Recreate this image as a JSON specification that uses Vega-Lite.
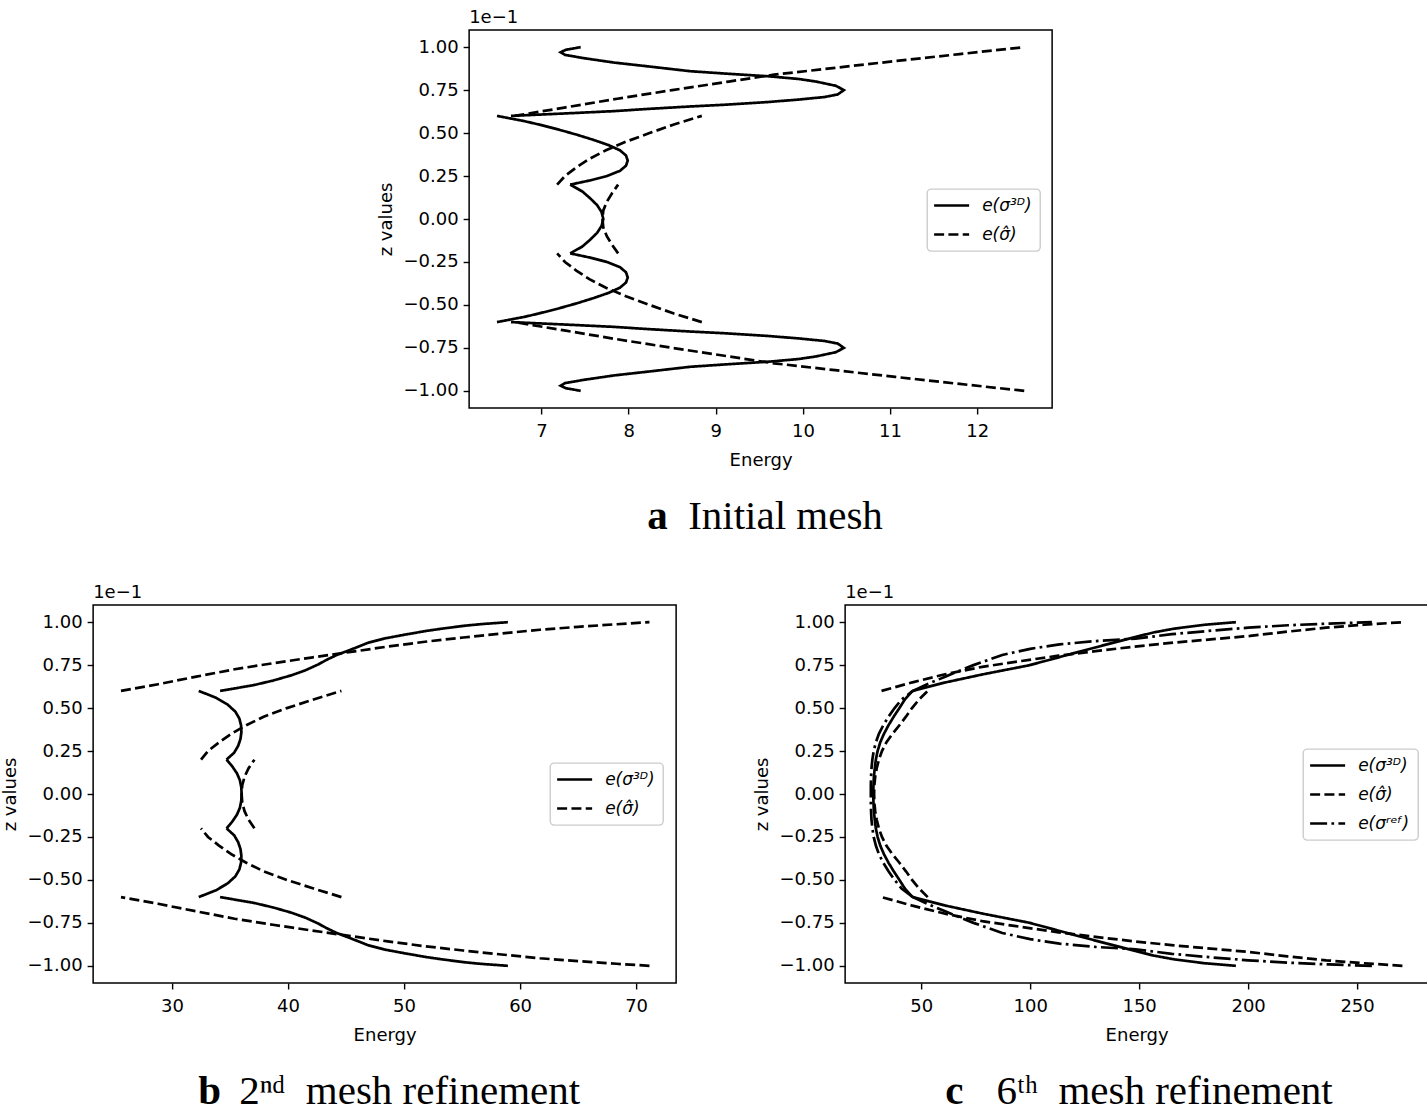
{
"$schema": "https://vega.github.io/schema/vega-lite/v6.json",
"background": "white",
"padding": {"left": 1, "top": 8, "right": 0, "bottom": 0},
"autosize": {"type": "pad"},
"spacing": 46,
"center": true,
"resolve": {"scale": {"strokeDash": "independent"}, "legend": {"strokeDash": "independent"}},
"config": {
  "view": {"stroke": "black", "strokeWidth": 1.5},
  "axis": {"grid": false, "domain": false, "tickColor": "black", "tickSize": 6, "tickWidth": 1.4, "labelFont": "DejaVu Sans", "labelFontSize": 18, "labelColor": "black", "labelPadding": 8, "titleFont": "DejaVu Sans", "titleFontSize": 18, "titleFontWeight": "normal", "titleColor": "black", "titlePadding": 11},
  "axisY": {"labelPadding": 5, "titlePadding": 7},
  "legend": {"orient": "none", "symbolType": "M-2.5,0H2.5", "symbolSize": 196, "symbolOffset": 8, "symbolStrokeWidth": 2.7, "symbolStrokeColor": "black", "labelFont": "DejaVu Sans", "labelFontStyle": "italic", "labelFontSize": 17, "labelColor": "black", "labelOffset": 22, "rowPadding": 11, "padding": 8, "fillColor": "rgba(255,255,255,0.8)", "strokeColor": "#cccccc", "cornerRadius": 4, "strokeWidth": 1.4}
},
"vconcat": [
{
  "title": {"text": "a", "subtitle": "\u200b\u00a0\u00a0\u00a0\u00a0Initial mesh", "orient": "bottom", "anchor": "start", "frame": "group", "dx": 178, "offset": 27, "font": "Liberation Serif", "fontSize": 41, "fontWeight": "bold", "color": "black", "subtitleFont": "Liberation Serif", "subtitleFontSize": 41, "subtitleFontWeight": "normal", "subtitleColor": "black", "subtitlePadding": -41},
  "vconcat": [{
    "width": 583, "height": 378,
    "title": {"text": "1e\u22121", "anchor": "start", "frame": "group", "orient": "top", "font": "DejaVu Sans", "fontSize": 18, "fontWeight": "normal", "color": "black", "offset": 3},
    "data": {"values": [
      {"s":"S","g":"a5","z":1.0,"E":7.45},{"s":"S","g":"a5","z":0.985,"E":7.28},{"s":"S","g":"a5","z":0.97,"E":7.22},{"s":"S","g":"a5","z":0.955,"E":7.27},{"s":"S","g":"a5","z":0.935,"E":7.5},{"s":"S","g":"a5","z":0.91,"E":7.84},{"s":"S","g":"a5","z":0.885,"E":8.28},{"s":"S","g":"a5","z":0.86,"E":8.71},{"s":"S","g":"a5","z":0.845,"E":9.15},{"s":"S","g":"a5","z":0.83,"E":9.62},{"s":"S","g":"a5","z":0.815,"E":9.95},{"s":"S","g":"a5","z":0.8,"E":10.15},{"s":"S","g":"a5","z":0.775,"E":10.38},{"s":"S","g":"a5","z":0.75,"E":10.47},{"s":"S","g":"a5","z":0.725,"E":10.4},{"s":"S","g":"a5","z":0.71,"E":10.25},{"s":"S","g":"a5","z":0.695,"E":9.95},{"s":"S","g":"a5","z":0.68,"E":9.58},{"s":"S","g":"a5","z":0.665,"E":9.1},{"s":"S","g":"a5","z":0.655,"E":8.71},{"s":"S","g":"a5","z":0.64,"E":8.2},{"s":"S","g":"a5","z":0.628,"E":7.84},{"s":"S","g":"a5","z":0.615,"E":7.3},{"s":"S","g":"a5","z":0.6,"E":6.65},
      {"s":"S","g":"a4","z":0.6,"E":6.49},{"s":"S","g":"a4","z":0.57,"E":6.8},{"s":"S","g":"a4","z":0.55,"E":6.97},{"s":"S","g":"a4","z":0.52,"E":7.2},{"s":"S","g":"a4","z":0.49,"E":7.41},{"s":"S","g":"a4","z":0.46,"E":7.6},{"s":"S","g":"a4","z":0.43,"E":7.77},{"s":"S","g":"a4","z":0.4,"E":7.9},{"s":"S","g":"a4","z":0.37,"E":7.97},{"s":"S","g":"a4","z":0.34,"E":7.99},{"s":"S","g":"a4","z":0.31,"E":7.97},{"s":"S","g":"a4","z":0.28,"E":7.9},{"s":"S","g":"a4","z":0.25,"E":7.75},{"s":"S","g":"a4","z":0.225,"E":7.56},{"s":"S","g":"a4","z":0.2,"E":7.33},
      {"s":"S","g":"a3","z":0.2,"E":7.33},{"s":"S","g":"a3","z":0.16,"E":7.47},{"s":"S","g":"a3","z":0.12,"E":7.56},{"s":"S","g":"a3","z":0.08,"E":7.64},{"s":"S","g":"a3","z":0.04,"E":7.69},{"s":"S","g":"a3","z":0,"E":7.71},{"s":"S","g":"a3","z":-0.04,"E":7.69},{"s":"S","g":"a3","z":-0.08,"E":7.64},{"s":"S","g":"a3","z":-0.12,"E":7.56},{"s":"S","g":"a3","z":-0.16,"E":7.47},{"s":"S","g":"a3","z":-0.2,"E":7.33},
      {"s":"S","g":"a2","z":-0.6,"E":6.49},{"s":"S","g":"a2","z":-0.57,"E":6.8},{"s":"S","g":"a2","z":-0.55,"E":6.97},{"s":"S","g":"a2","z":-0.52,"E":7.2},{"s":"S","g":"a2","z":-0.49,"E":7.41},{"s":"S","g":"a2","z":-0.46,"E":7.6},{"s":"S","g":"a2","z":-0.43,"E":7.77},{"s":"S","g":"a2","z":-0.4,"E":7.9},{"s":"S","g":"a2","z":-0.37,"E":7.97},{"s":"S","g":"a2","z":-0.34,"E":7.99},{"s":"S","g":"a2","z":-0.31,"E":7.97},{"s":"S","g":"a2","z":-0.28,"E":7.9},{"s":"S","g":"a2","z":-0.25,"E":7.75},{"s":"S","g":"a2","z":-0.225,"E":7.56},{"s":"S","g":"a2","z":-0.2,"E":7.33},
      {"s":"S","g":"a1","z":-1.0,"E":7.45},{"s":"S","g":"a1","z":-0.985,"E":7.28},{"s":"S","g":"a1","z":-0.97,"E":7.22},{"s":"S","g":"a1","z":-0.955,"E":7.27},{"s":"S","g":"a1","z":-0.935,"E":7.5},{"s":"S","g":"a1","z":-0.91,"E":7.84},{"s":"S","g":"a1","z":-0.885,"E":8.28},{"s":"S","g":"a1","z":-0.86,"E":8.71},{"s":"S","g":"a1","z":-0.845,"E":9.15},{"s":"S","g":"a1","z":-0.83,"E":9.62},{"s":"S","g":"a1","z":-0.815,"E":9.95},{"s":"S","g":"a1","z":-0.8,"E":10.15},{"s":"S","g":"a1","z":-0.775,"E":10.38},{"s":"S","g":"a1","z":-0.75,"E":10.47},{"s":"S","g":"a1","z":-0.725,"E":10.4},{"s":"S","g":"a1","z":-0.71,"E":10.25},{"s":"S","g":"a1","z":-0.695,"E":9.95},{"s":"S","g":"a1","z":-0.68,"E":9.58},{"s":"S","g":"a1","z":-0.665,"E":9.1},{"s":"S","g":"a1","z":-0.655,"E":8.71},{"s":"S","g":"a1","z":-0.64,"E":8.2},{"s":"S","g":"a1","z":-0.628,"E":7.84},{"s":"S","g":"a1","z":-0.615,"E":7.3},{"s":"S","g":"a1","z":-0.6,"E":6.65},
      {"s":"D","g":"b5","z":0.6,"E":6.69},{"s":"D","g":"b5","z":0.65,"E":7.28},{"s":"D","g":"b5","z":0.7,"E":7.87},{"s":"D","g":"b5","z":0.75,"E":8.5},{"s":"D","g":"b5","z":0.8,"E":9.15},{"s":"D","g":"b5","z":0.84,"E":9.67},{"s":"D","g":"b5","z":0.88,"E":10.37},{"s":"D","g":"b5","z":0.919,"E":11.06},{"s":"D","g":"b5","z":0.96,"E":11.8},{"s":"D","g":"b5","z":1.0,"E":12.54},
      {"s":"D","g":"b4","z":0.6,"E":8.84},{"s":"D","g":"b4","z":0.55,"E":8.52},{"s":"D","g":"b4","z":0.5,"E":8.24},{"s":"D","g":"b4","z":0.45,"E":7.97},{"s":"D","g":"b4","z":0.4,"E":7.74},{"s":"D","g":"b4","z":0.35,"E":7.55},{"s":"D","g":"b4","z":0.3,"E":7.4},{"s":"D","g":"b4","z":0.25,"E":7.27},{"s":"D","g":"b4","z":0.2,"E":7.18},
      {"s":"D","g":"b3","z":0.2,"E":7.88},{"s":"D","g":"b3","z":0.15,"E":7.81},{"s":"D","g":"b3","z":0.1,"E":7.75},{"s":"D","g":"b3","z":0.05,"E":7.71},{"s":"D","g":"b3","z":0,"E":7.7},{"s":"D","g":"b3","z":-0.05,"E":7.71},{"s":"D","g":"b3","z":-0.1,"E":7.75},{"s":"D","g":"b3","z":-0.15,"E":7.81},{"s":"D","g":"b3","z":-0.2,"E":7.88},
      {"s":"D","g":"b2","z":-0.6,"E":8.84},{"s":"D","g":"b2","z":-0.55,"E":8.52},{"s":"D","g":"b2","z":-0.5,"E":8.24},{"s":"D","g":"b2","z":-0.45,"E":7.97},{"s":"D","g":"b2","z":-0.4,"E":7.74},{"s":"D","g":"b2","z":-0.35,"E":7.55},{"s":"D","g":"b2","z":-0.3,"E":7.4},{"s":"D","g":"b2","z":-0.25,"E":7.27},{"s":"D","g":"b2","z":-0.2,"E":7.18},
      {"s":"D","g":"b1","z":-0.6,"E":6.69},{"s":"D","g":"b1","z":-0.65,"E":7.28},{"s":"D","g":"b1","z":-0.7,"E":7.87},{"s":"D","g":"b1","z":-0.75,"E":8.5},{"s":"D","g":"b1","z":-0.8,"E":9.15},{"s":"D","g":"b1","z":-0.84,"E":9.67},{"s":"D","g":"b1","z":-0.88,"E":10.37},{"s":"D","g":"b1","z":-0.919,"E":11.06},{"s":"D","g":"b1","z":-0.96,"E":11.8},{"s":"D","g":"b1","z":-1.0,"E":12.54}
    ]},
    "mark": {"type": "line", "color": "black", "strokeWidth": 2.7},
    "encoding": {
      "x": {"field": "E", "type": "quantitative", "scale": {"domain": [6.17, 12.86], "nice": false, "zero": false}, "axis": {"values": [7, 8, 9, 10, 11, 12], "title": "Energy"}},
      "y": {"field": "z", "type": "quantitative", "scale": {"domain": [-1.1, 1.1], "nice": false, "zero": false}, "axis": {"values": [-1, -0.75, -0.5, -0.25, 0, 0.25, 0.5, 0.75, 1], "format": ".2f", "title": "z values"}},
      "strokeDash": {"field": "s", "type": "nominal", "scale": {"domain": ["S", "D"], "range": [[1, 0], [10, 4.3]]}, "legend": {"title": null, "legendX": 458, "legendY": 159, "labelExpr": "datum.label === 'S' ? 'e(\u03c3\u00b3\u1d30)' : 'e(\u03c3\u0302)'"}},
      "detail": {"field": "g", "type": "nominal"},
      "order": {"field": "z", "type": "quantitative"}
    }
  }]
},
{
  "spacing": 76,
  "resolve": {"scale": {"strokeDash": "independent"}, "legend": {"strokeDash": "independent"}},
  "hconcat": [
  {
    "title": {"text": "b", "subtitle": "\u200b\u00a0\u00a0\u00a0\u00a02\u207f\u1d48\u00a0 mesh refinement", "orient": "bottom", "anchor": "start", "frame": "group", "dx": 105, "offset": 27, "font": "Liberation Serif", "fontSize": 41, "fontWeight": "bold", "color": "black", "subtitleFont": "Liberation Serif", "subtitleFontSize": 41, "subtitleFontWeight": "normal", "subtitleColor": "black", "subtitlePadding": -41},
    "vconcat": [{
      "width": 583, "height": 378,
      "title": {"text": "1e\u22121", "anchor": "start", "frame": "group", "orient": "top", "font": "DejaVu Sans", "fontSize": 18, "fontWeight": "normal", "color": "black", "offset": 3},
      "data": {"values": [
        {"s":"S","g":"c5","z":0.6,"E":34.14},{"s":"S","g":"c5","z":0.633,"E":37.0},{"s":"S","g":"c5","z":0.66,"E":38.7},{"s":"S","g":"c5","z":0.691,"E":40.3},{"s":"S","g":"c5","z":0.72,"E":41.5},{"s":"S","g":"c5","z":0.754,"E":42.6},{"s":"S","g":"c5","z":0.78,"E":43.3},{"s":"S","g":"c5","z":0.809,"E":44.2},{"s":"S","g":"c5","z":0.84,"E":45.4},{"s":"S","g":"c5","z":0.88,"E":46.9},{"s":"S","g":"c5","z":0.905,"E":48.3},{"s":"S","g":"c5","z":0.929,"E":50.2},{"s":"S","g":"c5","z":0.95,"E":52.0},{"s":"S","g":"c5","z":0.964,"E":53.45},{"s":"S","g":"c5","z":0.98,"E":55.3},{"s":"S","g":"c5","z":0.989,"E":56.7},{"s":"S","g":"c5","z":1.0,"E":58.95},
        {"s":"S","g":"c4","z":0.6,"E":32.3},{"s":"S","g":"c4","z":0.56,"E":33.8},{"s":"S","g":"c4","z":0.52,"E":34.8},{"s":"S","g":"c4","z":0.48,"E":35.45},{"s":"S","g":"c4","z":0.44,"E":35.8},{"s":"S","g":"c4","z":0.4,"E":35.95},{"s":"S","g":"c4","z":0.36,"E":35.98},{"s":"S","g":"c4","z":0.32,"E":35.9},{"s":"S","g":"c4","z":0.28,"E":35.7},{"s":"S","g":"c4","z":0.24,"E":35.35},{"s":"S","g":"c4","z":0.2,"E":34.7},
        {"s":"S","g":"c3","z":0.2,"E":34.7},{"s":"S","g":"c3","z":0.16,"E":35.2},{"s":"S","g":"c3","z":0.12,"E":35.6},{"s":"S","g":"c3","z":0.08,"E":35.85},{"s":"S","g":"c3","z":0.04,"E":35.97},{"s":"S","g":"c3","z":0,"E":36.0},{"s":"S","g":"c3","z":-0.04,"E":35.97},{"s":"S","g":"c3","z":-0.08,"E":35.85},{"s":"S","g":"c3","z":-0.12,"E":35.6},{"s":"S","g":"c3","z":-0.16,"E":35.2},{"s":"S","g":"c3","z":-0.2,"E":34.7},
        {"s":"S","g":"c2","z":-0.6,"E":32.3},{"s":"S","g":"c2","z":-0.56,"E":33.8},{"s":"S","g":"c2","z":-0.52,"E":34.8},{"s":"S","g":"c2","z":-0.48,"E":35.45},{"s":"S","g":"c2","z":-0.44,"E":35.8},{"s":"S","g":"c2","z":-0.4,"E":35.95},{"s":"S","g":"c2","z":-0.36,"E":35.98},{"s":"S","g":"c2","z":-0.32,"E":35.9},{"s":"S","g":"c2","z":-0.28,"E":35.7},{"s":"S","g":"c2","z":-0.24,"E":35.35},{"s":"S","g":"c2","z":-0.2,"E":34.7},
        {"s":"S","g":"c1","z":-0.6,"E":34.14},{"s":"S","g":"c1","z":-0.633,"E":37.0},{"s":"S","g":"c1","z":-0.66,"E":38.7},{"s":"S","g":"c1","z":-0.691,"E":40.3},{"s":"S","g":"c1","z":-0.72,"E":41.5},{"s":"S","g":"c1","z":-0.754,"E":42.6},{"s":"S","g":"c1","z":-0.78,"E":43.3},{"s":"S","g":"c1","z":-0.809,"E":44.2},{"s":"S","g":"c1","z":-0.84,"E":45.4},{"s":"S","g":"c1","z":-0.88,"E":46.9},{"s":"S","g":"c1","z":-0.905,"E":48.3},{"s":"S","g":"c1","z":-0.929,"E":50.2},{"s":"S","g":"c1","z":-0.95,"E":52.0},{"s":"S","g":"c1","z":-0.964,"E":53.45},{"s":"S","g":"c1","z":-0.98,"E":55.3},{"s":"S","g":"c1","z":-0.989,"E":56.7},{"s":"S","g":"c1","z":-1.0,"E":58.95},
        {"s":"D","g":"d5","z":0.6,"E":25.6},{"s":"D","g":"d5","z":0.639,"E":28.8},{"s":"D","g":"d5","z":0.683,"E":32.1},{"s":"D","g":"d5","z":0.726,"E":35.4},{"s":"D","g":"d5","z":0.761,"E":38.7},{"s":"D","g":"d5","z":0.794,"E":42.0},{"s":"D","g":"d5","z":0.827,"E":45.4},{"s":"D","g":"d5","z":0.858,"E":48.6},{"s":"D","g":"d5","z":0.886,"E":51.8},{"s":"D","g":"d5","z":0.911,"E":55.1},{"s":"D","g":"d5","z":0.934,"E":58.4},{"s":"D","g":"d5","z":0.956,"E":61.7},{"s":"D","g":"d5","z":0.973,"E":65.0},{"s":"D","g":"d5","z":0.988,"E":68.3},{"s":"D","g":"d5","z":1.0,"E":71.15},
        {"s":"D","g":"d4","z":0.6,"E":44.6},{"s":"D","g":"d4","z":0.55,"E":42.2},{"s":"D","g":"d4","z":0.5,"E":39.9},{"s":"D","g":"d4","z":0.45,"E":37.9},{"s":"D","g":"d4","z":0.4,"E":36.4},{"s":"D","g":"d4","z":0.35,"E":35.1},{"s":"D","g":"d4","z":0.3,"E":34.05},{"s":"D","g":"d4","z":0.25,"E":33.1},{"s":"D","g":"d4","z":0.2,"E":32.5},
        {"s":"D","g":"d3","z":0.2,"E":37.1},{"s":"D","g":"d3","z":0.15,"E":36.6},{"s":"D","g":"d3","z":0.1,"E":36.25},{"s":"D","g":"d3","z":0.05,"E":36.05},{"s":"D","g":"d3","z":0,"E":36.0},{"s":"D","g":"d3","z":-0.05,"E":36.05},{"s":"D","g":"d3","z":-0.1,"E":36.25},{"s":"D","g":"d3","z":-0.15,"E":36.6},{"s":"D","g":"d3","z":-0.2,"E":37.1},
        {"s":"D","g":"d2","z":-0.6,"E":44.6},{"s":"D","g":"d2","z":-0.55,"E":42.2},{"s":"D","g":"d2","z":-0.5,"E":39.9},{"s":"D","g":"d2","z":-0.45,"E":37.9},{"s":"D","g":"d2","z":-0.4,"E":36.4},{"s":"D","g":"d2","z":-0.35,"E":35.1},{"s":"D","g":"d2","z":-0.3,"E":34.05},{"s":"D","g":"d2","z":-0.25,"E":33.1},{"s":"D","g":"d2","z":-0.2,"E":32.5},
        {"s":"D","g":"d1","z":-0.6,"E":25.6},{"s":"D","g":"d1","z":-0.639,"E":28.8},{"s":"D","g":"d1","z":-0.683,"E":32.1},{"s":"D","g":"d1","z":-0.726,"E":35.4},{"s":"D","g":"d1","z":-0.761,"E":38.7},{"s":"D","g":"d1","z":-0.794,"E":42.0},{"s":"D","g":"d1","z":-0.827,"E":45.4},{"s":"D","g":"d1","z":-0.858,"E":48.6},{"s":"D","g":"d1","z":-0.886,"E":51.8},{"s":"D","g":"d1","z":-0.911,"E":55.1},{"s":"D","g":"d1","z":-0.934,"E":58.4},{"s":"D","g":"d1","z":-0.956,"E":61.7},{"s":"D","g":"d1","z":-0.973,"E":65.0},{"s":"D","g":"d1","z":-0.988,"E":68.3},{"s":"D","g":"d1","z":-1.0,"E":71.15}
      ]},
      "mark": {"type": "line", "color": "black", "strokeWidth": 2.7},
      "encoding": {
        "x": {"field": "E", "type": "quantitative", "scale": {"domain": [23.2, 73.45], "nice": false, "zero": false}, "axis": {"values": [30, 40, 50, 60, 70], "title": "Energy"}},
        "y": {"field": "z", "type": "quantitative", "scale": {"domain": [-1.1, 1.1], "nice": false, "zero": false}, "axis": {"values": [-1, -0.75, -0.5, -0.25, 0, 0.25, 0.5, 0.75, 1], "format": ".2f", "title": "z values"}},
        "strokeDash": {"field": "s", "type": "nominal", "scale": {"domain": ["S", "D"], "range": [[1, 0], [10, 4.3]]}, "legend": {"title": null, "legendX": 457, "legendY": 158, "labelExpr": "datum.label === 'S' ? 'e(\u03c3\u00b3\u1d30)' : 'e(\u03c3\u0302)'"}},
        "detail": {"field": "g", "type": "nominal"},
        "order": {"field": "z", "type": "quantitative"}
      }
    }]
  },
  {
    "title": {"text": "c", "subtitle": "\u200b\u00a0\u00a0\u00a0\u00a0\u00a06\u1d57\u02b0\u00a0 mesh refinement", "orient": "bottom", "anchor": "start", "frame": "group", "dx": 100, "offset": 27, "font": "Liberation Serif", "fontSize": 41, "fontWeight": "bold", "color": "black", "subtitleFont": "Liberation Serif", "subtitleFontSize": 41, "subtitleFontWeight": "normal", "subtitleColor": "black", "subtitlePadding": -41},
    "vconcat": [{
      "width": 583, "height": 378,
      "title": {"text": "1e\u22121", "anchor": "start", "frame": "group", "orient": "top", "font": "DejaVu Sans", "fontSize": 18, "fontWeight": "normal", "color": "black", "offset": 3},
      "data": {"values": [
        {"s":"S","g":"e5","z":0.6,"E":46.0},{"s":"S","g":"e5","z":0.649,"E":61.0},{"s":"S","g":"e5","z":0.697,"E":78.5},{"s":"S","g":"e5","z":0.749,"E":99.5},{"s":"S","g":"e5","z":0.79,"E":111.5},{"s":"S","g":"e5","z":0.827,"E":122.2},{"s":"S","g":"e5","z":0.87,"E":135.0},{"s":"S","g":"e5","z":0.914,"E":148.4},{"s":"S","g":"e5","z":0.94,"E":156.5},{"s":"S","g":"e5","z":0.962,"E":165.9},{"s":"S","g":"e5","z":0.985,"E":180.0},{"s":"S","g":"e5","z":1.0,"E":194.4},
        {"s":"S","g":"e3","z":0.6,"E":46.0},{"s":"S","g":"e3","z":0.55,"E":42.5},{"s":"S","g":"e3","z":0.5,"E":40.0},{"s":"S","g":"e3","z":0.45,"E":37.4},{"s":"S","g":"e3","z":0.4,"E":35.0},{"s":"S","g":"e3","z":0.35,"E":32.9},{"s":"S","g":"e3","z":0.3,"E":31.2},{"s":"S","g":"e3","z":0.25,"E":30.0},{"s":"S","g":"e3","z":0.2,"E":29.2},{"s":"S","g":"e3","z":0.15,"E":28.7},{"s":"S","g":"e3","z":0.1,"E":28.3},{"s":"S","g":"e3","z":0.05,"E":28.1},{"s":"S","g":"e3","z":0,"E":28.0},{"s":"S","g":"e3","z":-0.05,"E":28.1},{"s":"S","g":"e3","z":-0.1,"E":28.3},{"s":"S","g":"e3","z":-0.15,"E":28.7},{"s":"S","g":"e3","z":-0.2,"E":29.2},{"s":"S","g":"e3","z":-0.25,"E":30.0},{"s":"S","g":"e3","z":-0.3,"E":31.2},{"s":"S","g":"e3","z":-0.35,"E":32.9},{"s":"S","g":"e3","z":-0.4,"E":35.0},{"s":"S","g":"e3","z":-0.45,"E":37.4},{"s":"S","g":"e3","z":-0.5,"E":40.0},{"s":"S","g":"e3","z":-0.55,"E":42.5},{"s":"S","g":"e3","z":-0.6,"E":46.0},
        {"s":"S","g":"e1","z":-0.6,"E":46.0},{"s":"S","g":"e1","z":-0.649,"E":61.0},{"s":"S","g":"e1","z":-0.697,"E":78.5},{"s":"S","g":"e1","z":-0.749,"E":99.5},{"s":"S","g":"e1","z":-0.79,"E":111.5},{"s":"S","g":"e1","z":-0.827,"E":122.2},{"s":"S","g":"e1","z":-0.87,"E":135.0},{"s":"S","g":"e1","z":-0.914,"E":148.4},{"s":"S","g":"e1","z":-0.94,"E":156.5},{"s":"S","g":"e1","z":-0.962,"E":165.9},{"s":"S","g":"e1","z":-0.985,"E":180.0},{"s":"S","g":"e1","z":-1.0,"E":194.4},
        {"s":"D","g":"f5","z":0.6,"E":31.8},{"s":"D","g":"f5","z":0.65,"E":46.0},{"s":"D","g":"f5","z":0.697,"E":61.0},{"s":"D","g":"f5","z":0.74,"E":78.0},{"s":"D","g":"f5","z":0.774,"E":96.0},{"s":"D","g":"f5","z":0.805,"E":113.0},{"s":"D","g":"f5","z":0.833,"E":130.9},{"s":"D","g":"f5","z":0.858,"E":148.0},{"s":"D","g":"f5","z":0.881,"E":165.9},{"s":"D","g":"f5","z":0.92,"E":200.9},{"s":"D","g":"f5","z":0.945,"E":218.0},{"s":"D","g":"f5","z":0.968,"E":235.8},{"s":"D","g":"f5","z":0.985,"E":253.0},{"s":"D","g":"f5","z":1.0,"E":270.8},
        {"s":"D","g":"f3","z":0.6,"E":53.0},{"s":"D","g":"f3","z":0.55,"E":49.0},{"s":"D","g":"f3","z":0.5,"E":45.8},{"s":"D","g":"f3","z":0.45,"E":43.0},{"s":"D","g":"f3","z":0.4,"E":40.0},{"s":"D","g":"f3","z":0.35,"E":36.8},{"s":"D","g":"f3","z":0.3,"E":34.0},{"s":"D","g":"f3","z":0.25,"E":32.0},{"s":"D","g":"f3","z":0.2,"E":30.6},{"s":"D","g":"f3","z":0.15,"E":29.6},{"s":"D","g":"f3","z":0.1,"E":28.9},{"s":"D","g":"f3","z":0.05,"E":28.5},{"s":"D","g":"f3","z":0,"E":28.4},{"s":"D","g":"f3","z":-0.05,"E":28.5},{"s":"D","g":"f3","z":-0.1,"E":28.9},{"s":"D","g":"f3","z":-0.15,"E":29.6},{"s":"D","g":"f3","z":-0.2,"E":30.6},{"s":"D","g":"f3","z":-0.25,"E":32.0},{"s":"D","g":"f3","z":-0.3,"E":34.0},{"s":"D","g":"f3","z":-0.35,"E":36.8},{"s":"D","g":"f3","z":-0.4,"E":40.0},{"s":"D","g":"f3","z":-0.45,"E":43.0},{"s":"D","g":"f3","z":-0.5,"E":45.8},{"s":"D","g":"f3","z":-0.55,"E":49.0},{"s":"D","g":"f3","z":-0.6,"E":53.0},
        {"s":"D","g":"f1","z":-0.6,"E":31.8},{"s":"D","g":"f1","z":-0.65,"E":46.0},{"s":"D","g":"f1","z":-0.697,"E":61.0},{"s":"D","g":"f1","z":-0.74,"E":78.0},{"s":"D","g":"f1","z":-0.774,"E":96.0},{"s":"D","g":"f1","z":-0.805,"E":113.0},{"s":"D","g":"f1","z":-0.833,"E":130.9},{"s":"D","g":"f1","z":-0.858,"E":148.0},{"s":"D","g":"f1","z":-0.881,"E":165.9},{"s":"D","g":"f1","z":-0.92,"E":200.9},{"s":"D","g":"f1","z":-0.945,"E":218.0},{"s":"D","g":"f1","z":-0.968,"E":235.8},{"s":"D","g":"f1","z":-0.985,"E":253.0},{"s":"D","g":"f1","z":-1.0,"E":270.8},
        {"s":"R","g":"g5","z":0.6,"E":46.2},{"s":"R","g":"g5","z":0.64,"E":53.0},{"s":"R","g":"g5","z":0.683,"E":61.0},{"s":"R","g":"g5","z":0.75,"E":74.0},{"s":"R","g":"g5","z":0.809,"E":87.2},{"s":"R","g":"g5","z":0.845,"E":100.0},{"s":"R","g":"g5","z":0.871,"E":113.5},{"s":"R","g":"g5","z":0.89,"E":130.0},{"s":"R","g":"g5","z":0.904,"E":148.4},{"s":"R","g":"g5","z":0.93,"E":165.0},{"s":"R","g":"g5","z":0.951,"E":183.4},{"s":"R","g":"g5","z":0.968,"E":200.0},{"s":"R","g":"g5","z":0.982,"E":218.4},{"s":"R","g":"g5","z":0.992,"E":237.0},{"s":"R","g":"g5","z":1.0,"E":256.8},
        {"s":"R","g":"g3","z":0.6,"E":46.2},{"s":"R","g":"g3","z":0.55,"E":41.0},{"s":"R","g":"g3","z":0.5,"E":37.8},{"s":"R","g":"g3","z":0.45,"E":35.0},{"s":"R","g":"g3","z":0.4,"E":32.6},{"s":"R","g":"g3","z":0.35,"E":30.6},{"s":"R","g":"g3","z":0.3,"E":29.2},{"s":"R","g":"g3","z":0.25,"E":28.2},{"s":"R","g":"g3","z":0.2,"E":27.6},{"s":"R","g":"g3","z":0.15,"E":27.2},{"s":"R","g":"g3","z":0.1,"E":27.0},{"s":"R","g":"g3","z":0.05,"E":26.9},{"s":"R","g":"g3","z":0,"E":26.9},{"s":"R","g":"g3","z":-0.05,"E":26.9},{"s":"R","g":"g3","z":-0.1,"E":27.0},{"s":"R","g":"g3","z":-0.15,"E":27.2},{"s":"R","g":"g3","z":-0.2,"E":27.6},{"s":"R","g":"g3","z":-0.25,"E":28.2},{"s":"R","g":"g3","z":-0.3,"E":29.2},{"s":"R","g":"g3","z":-0.35,"E":30.6},{"s":"R","g":"g3","z":-0.4,"E":32.6},{"s":"R","g":"g3","z":-0.45,"E":35.0},{"s":"R","g":"g3","z":-0.5,"E":37.8},{"s":"R","g":"g3","z":-0.55,"E":41.0},{"s":"R","g":"g3","z":-0.6,"E":46.2},
        {"s":"R","g":"g1","z":-0.6,"E":46.2},{"s":"R","g":"g1","z":-0.64,"E":53.0},{"s":"R","g":"g1","z":-0.683,"E":61.0},{"s":"R","g":"g1","z":-0.75,"E":74.0},{"s":"R","g":"g1","z":-0.809,"E":87.2},{"s":"R","g":"g1","z":-0.845,"E":100.0},{"s":"R","g":"g1","z":-0.871,"E":113.5},{"s":"R","g":"g1","z":-0.89,"E":130.0},{"s":"R","g":"g1","z":-0.904,"E":148.4},{"s":"R","g":"g1","z":-0.93,"E":165.0},{"s":"R","g":"g1","z":-0.951,"E":183.4},{"s":"R","g":"g1","z":-0.968,"E":200.0},{"s":"R","g":"g1","z":-0.982,"E":218.4},{"s":"R","g":"g1","z":-0.992,"E":237.0},{"s":"R","g":"g1","z":-1.0,"E":256.8}
      ]},
      "mark": {"type": "line", "color": "black", "strokeWidth": 2.7},
      "encoding": {
        "x": {"field": "E", "type": "quantitative", "scale": {"domain": [15.1, 282.6], "nice": false, "zero": false}, "axis": {"values": [50, 100, 150, 200, 250], "title": "Energy"}},
        "y": {"field": "z", "type": "quantitative", "scale": {"domain": [-1.1, 1.1], "nice": false, "zero": false}, "axis": {"values": [-1, -0.75, -0.5, -0.25, 0, 0.25, 0.5, 0.75, 1], "format": ".2f", "title": "z values"}},
        "strokeDash": {"field": "s", "type": "nominal", "scale": {"domain": ["S", "D", "R"], "range": [[1, 0], [10, 4.3], [17, 4.3, 2.7, 4.3]]}, "legend": {"title": null, "legendX": 458, "legendY": 144, "labelExpr": "datum.label === 'S' ? 'e(\u03c3\u00b3\u1d30)' : datum.label === 'D' ? 'e(\u03c3\u0302)' : 'e(\u03c3\u02b3\u1d49\u1da0)'"}},
        "detail": {"field": "g", "type": "nominal"},
        "order": {"field": "z", "type": "quantitative"}
      }
    }]
  }
  ]
}
]
}
